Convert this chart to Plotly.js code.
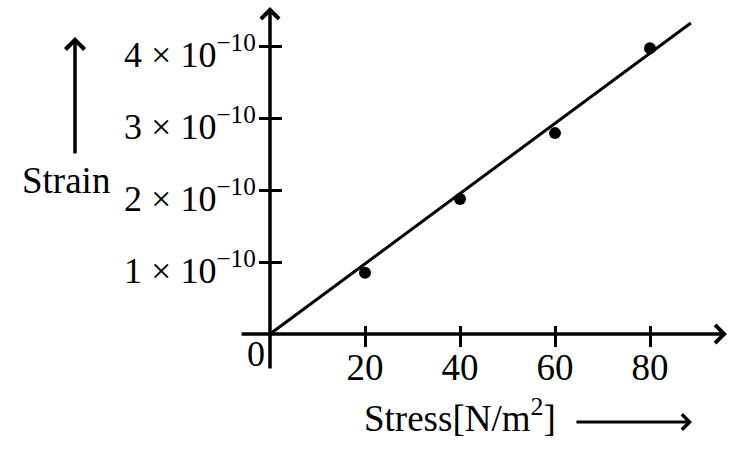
<!DOCTYPE html>
<html>
<head>
<meta charset="utf-8">
<script src="https://cdn.plot.ly/plotly-3.0.1.min.js"></script>
<style>html,body{margin:0;padding:0;background:#fff;}#chart{width:734px;height:449px;}</style>
</head>
<body>
<div id="chart"></div>
<script>
// ---- data ----
const stress = [20, 40, 60, 80];                       // N/m^2
const strain = [0.85e-10, 1.875e-10, 2.79e-10, 3.97e-10];
const fitStress = [0, 88.6];                           // straight line through origin
const fitStrain = [0, 4.32e-10];
const xTickVals = [20, 40, 60, 80];
const xTickText = ['20', '40', '60', '80'];
const yTickVals = [1e-10, 2e-10, 3e-10, 4e-10];
const yTickText = ['1 × 10<sup>−10</sup>', '2 × 10<sup>−10</sup>', '3 × 10<sup>−10</sup>', '4 × 10<sup>−10</sup>'];
const xTitle = 'Stress[N/m<sup>2</sup>]';
const yTitle = 'Strain';
const originLabel = '0';

// ---- layout geometry ----
const W = 734, H = 449;
const ox = 270, oy = 334;          // pixel of origin
const kx = 4.75;                   // px per N/m^2
const ky = 72e10;                  // px per unit strain
const xRange = [-ox / kx, (W - ox) / kx];
const yRange = [-(H - oy) / ky, oy / ky];
const serif = 'Liberation Serif, Times New Roman, serif';
const axPos = { x: ox / W, y: 1 - oy / H };

const traces = [
  { x: fitStress, y: fitStrain, mode: 'lines', line: { color: '#000', width: 3 }, hoverinfo: 'skip' },
  { x: stress, y: strain, mode: 'markers', marker: { color: '#000', size: 12 } },
  { x: [], y: [], xaxis: 'x2', yaxis: 'y2', mode: 'markers' }
];

const baseX = {
  range: xRange, showgrid: false, zeroline: false, showline: false,
  tickvals: xTickVals, ticktext: xTickText, tickcolor: '#000', tickwidth: 3,
  anchor: 'free', position: axPos.y, fixedrange: true
};
const baseY = {
  range: yRange, showgrid: false, zeroline: false, showline: false,
  tickvals: yTickVals, ticktext: yTickText, tickcolor: '#000', tickwidth: 3,
  anchor: 'free', position: axPos.x, fixedrange: true
};

const layout = {
  width: W, height: H,
  margin: { l: 0, r: 0, t: 0, b: 0 },
  paper_bgcolor: '#fff', plot_bgcolor: '#fff',
  showlegend: false,
  font: { family: serif, color: '#000', size: 36 },
  xaxis: Object.assign({}, baseX, { ticks: 'inside', ticklen: 8, ticklabelstandoff: 8,
    tickfont: { family: serif, size: 37, color: '#000' } }),
  yaxis: Object.assign({}, baseY, { ticks: 'outside', ticklen: 11, ticklabelshift: 8, ticklabelstandoff: -4,
    tickfont: { family: serif, size: 36, color: '#000' } }),
  xaxis2: Object.assign({}, baseX, { overlaying: 'x', ticks: 'outside', ticklen: 12, showticklabels: false }),
  yaxis2: Object.assign({}, baseY, { overlaying: 'y', ticks: 'inside', ticklen: 11, showticklabels: false }),
  annotations: [
    // x axis with arrow
    { x: 96.2, y: 0, ax: -6.3, ay: 0, xref: 'x', yref: 'y', axref: 'x', ayref: 'y',
      text: '', showarrow: true, arrowhead: 4, arrowsize: 1, arrowwidth: 3.5, arrowcolor: '#000' },
    // y axis with arrow
    { x: 0, y: 4.54e-10, ax: 0, ay: -0.5e-10, xref: 'x', yref: 'y', axref: 'x', ayref: 'y',
      text: '', showarrow: true, arrowhead: 4, arrowsize: 1, arrowwidth: 3.5, arrowcolor: '#000' },
    // strain label arrow
    { x: 75 / W, y: 1 - 37 / H, xref: 'paper', yref: 'paper', ax: 0, ay: 118,
      text: '', showarrow: true, arrowhead: 4, arrowsize: 1.05, arrowwidth: 3.5, arrowcolor: '#000' },
    // stress label arrow
    { x: 692 / W, y: 1 - 422 / H, xref: 'paper', yref: 'paper', ax: -117, ay: 0,
      text: '', showarrow: true, arrowhead: 4, arrowsize: 1, arrowwidth: 3, arrowcolor: '#000' },
    { x: 66 / W, y: 1 - 180 / H, xref: 'paper', yref: 'paper', text: yTitle, showarrow: false,
      xanchor: 'center', yanchor: 'middle', font: { family: serif, size: 37, color: '#000' } },
    { x: 460 / W, y: 1 - 415 / H, xref: 'paper', yref: 'paper', text: xTitle, showarrow: false,
      xanchor: 'center', yanchor: 'middle', font: { family: serif, size: 37, color: '#000' } },
    { x: 256 / W, y: 1 - 354 / H, xref: 'paper', yref: 'paper', text: originLabel, showarrow: false,
      xanchor: 'center', yanchor: 'middle', font: { family: serif, size: 36, color: '#000' } }
  ]
};

Plotly.newPlot('chart', traces, layout, { staticPlot: true, displayModeBar: false });
</script>
</body>
</html>
